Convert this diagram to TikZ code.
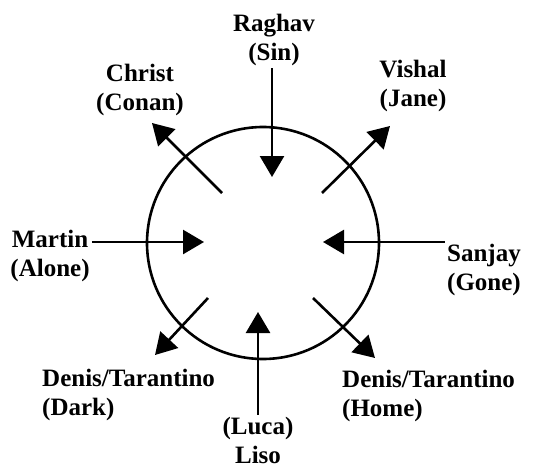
\documentclass[tikz,border=0pt]{standalone}
\usepackage{fontspec}
\setmainfont{Liberation Serif}
\usepackage{xcolor}
\usepackage{tikz}
\usetikzlibrary{arrows.meta, positioning}

\begin{document}
\begin{tikzpicture}[x=1pt, y=-1pt,
        who/.style={font=\fontsize{25}{29}\selectfont\bfseries, align=center, inner sep=2pt},
        arr/.style={line width=2.6pt, -{Triangle[length=21pt, width=24pt]}}]
        \useasboundingbox (0,0) rectangle (540,468);

        \node[draw, circle, line width=2.6pt, minimum size=232pt] (ring) at (263,243) {};

        % names round the ring
        \node[who] (raghav) at (274,40)  {Raghav\\(Sin)};
        \node[who] (christ) at (140,90)  {Christ\\(Conan)};
        \node[who] (vishal) at (413,86)  {Vishal\\(Jane)};
        \node[who] (martin) at (50,256)  {Martin\\(Alone)};
        \node[who] (sanjay) at (484,270) {Sanjay\\(Gone)};
        \node[who, align=left, anchor=west] (dark) at (40,395) {Denis/Tarantino\\(Dark)};
        \node[who, align=left, anchor=west] (home) at (340,396) {Denis/Tarantino\\(Home)};
        \node[who] (liso) at (258,440)   {(Luca)\\Liso};

        % inner ends
        \coordinate (cn) at (272,177);
        \coordinate (cs) at (258,312);
        \coordinate (cw) at (204,242);
        \coordinate (ce) at (323,242);
        \coordinate (cnw) at (222,193);
        \coordinate (cne) at (322,193);
        \coordinate (csw) at (208,298);
        \coordinate (cse) at (313,298);

        % outer ends
        \coordinate (tnw) at (152,123);
        \coordinate (tne) at (390,126);
        \coordinate (tsw) at (155,355);
        \coordinate (tse) at (375,358);

        \draw[arr] (cn |- raghav.south) -- (cn);
        \draw[arr] (cs |- liso.north) -- (cs);
        \draw[arr] (martin.east |- cw) -- (cw);
        \draw[arr] (sanjay.west |- ce) -- (ce);
        \draw[arr] (cnw) -- (tnw);
        \draw[arr] (cne) -- (tne);
        \draw[arr] (csw) -- (tsw);
        \draw[arr] (cse) -- (tse);
\end{tikzpicture}
\end{document}
